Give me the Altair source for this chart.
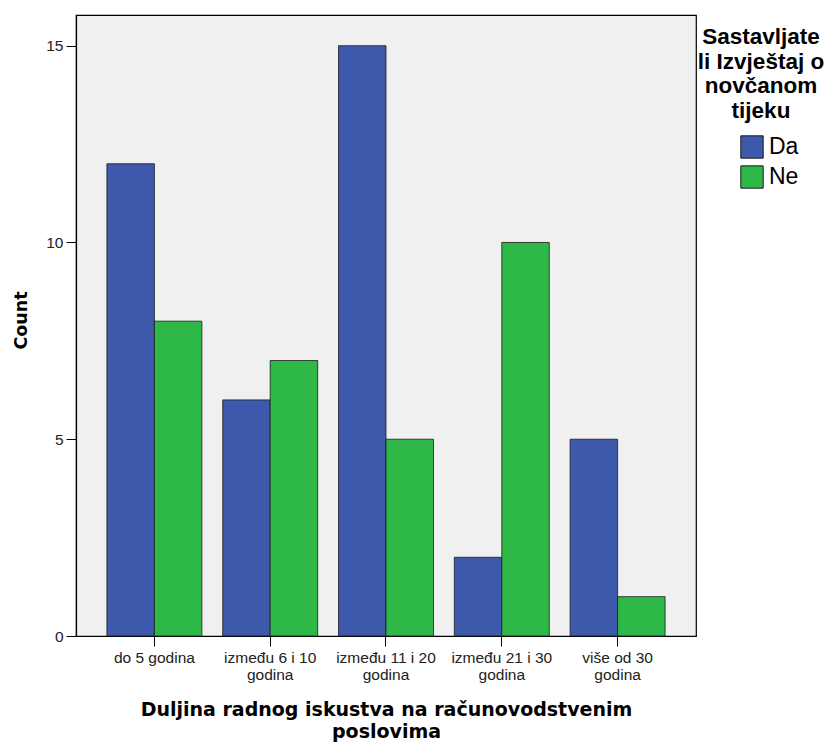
import altair as alt
import pandas as pd

categories = ["do 5 godina", "između 6 i 10 godina", "između 11 i 20 godina",
              "između 21 i 30 godina", "više od 30 godina"]
series = ["Da", "Ne"]
da_counts = [12, 6, 15, 2, 5]
ne_counts = [8, 7, 5, 10, 1]
colors = ["#3E58AC", "#2EB848"]
y_ticks = [0, 5, 10, 15]

rows = []
for c, d, n in zip(categories, da_counts, ne_counts):
    rows.append({"cat": c, "odg": "Da", "count": d})
    rows.append({"cat": c, "odg": "Ne", "count": n})
df = pd.DataFrame(rows)

label_expr = ("datum.value == 'do 5 godina' ? datum.value : "
              "[replace(datum.value, ' godina', ''), 'godina']")

chart = alt.Chart(df).mark_bar(stroke="#1a1a1a", strokeWidth=0.8).encode(
    x=alt.X("cat:N", sort=categories,
            scale=alt.Scale(paddingInner=0.18, paddingOuter=0.267),
            axis=alt.Axis(title=["Duljina radnog iskustva na računovodstvenim", "poslovima"],
                          labelAngle=0, labelExpr=label_expr,
                          labelFont="Liberation Sans", labelFontSize=15.5,
                          labelColor="#222222", labelPadding=4, labelLineHeight=17,
                          tickSize=10, tickColor="#000000", domain=False,
                          titleFont="DejaVu Sans", titleFontSize=19,
                          titleFontWeight="bold", titleColor="#000000",
                          titlePadding=18, titleLineHeight=22)),
    xOffset=alt.XOffset("odg:N", sort=series),
    y=alt.Y("count:Q", scale=alt.Scale(domain=[0, 15.78], nice=False, zero=True),
            axis=alt.Axis(title="Count", values=y_ticks, grid=False,
                          labelFont="Liberation Sans", labelFontSize=15.5,
                          labelColor="#222222", labelPadding=3,
                          tickSize=10, tickColor="#000000",
                          domainColor="#000000", domainWidth=1.2,
                          titleFont="DejaVu Sans", titleFontSize=17.5,
                          titleFontWeight="bold", titleColor="#000000",
                          titlePadding=15, titleY=305)),
    color=alt.Color("odg:N", sort=series,
                    scale=alt.Scale(domain=series, range=colors),
                    legend=alt.Legend(title=["Sastavljate", "li Izvještaj o", "novčanom", "tijeku"],
                                      orient="none", legendX=622, legendY=11,
                                      titleFont="Liberation Sans", titleFontSize=22.5,
                                      titleFontWeight="bold", titleColor="#000000",
                                      titleAlign="center", titleAnchor="middle",
                                      titleLineHeight=24.5, titlePadding=13,
                                      symbolType="square", symbolSize=500,
                                      symbolStrokeColor="#1a1a1a", symbolStrokeWidth=1,
                                      symbolOffset=16,
                                      labelFont="Liberation Sans", labelFontSize=23,
                                      labelColor="#000000", labelOffset=5,
                                      rowPadding=2, padding=0)),
).properties(
    width=620, height=621,
    autosize=alt.AutoSizeParams(type="none"),
    padding={"left": 68, "top": 7, "right": 133, "bottom": 106},
).configure_view(
    fill="#F0F0F0", stroke="#000000", strokeWidth=1.2
)

chart.save("out.html", embed_options={"renderer": "svg", "actions": False})
